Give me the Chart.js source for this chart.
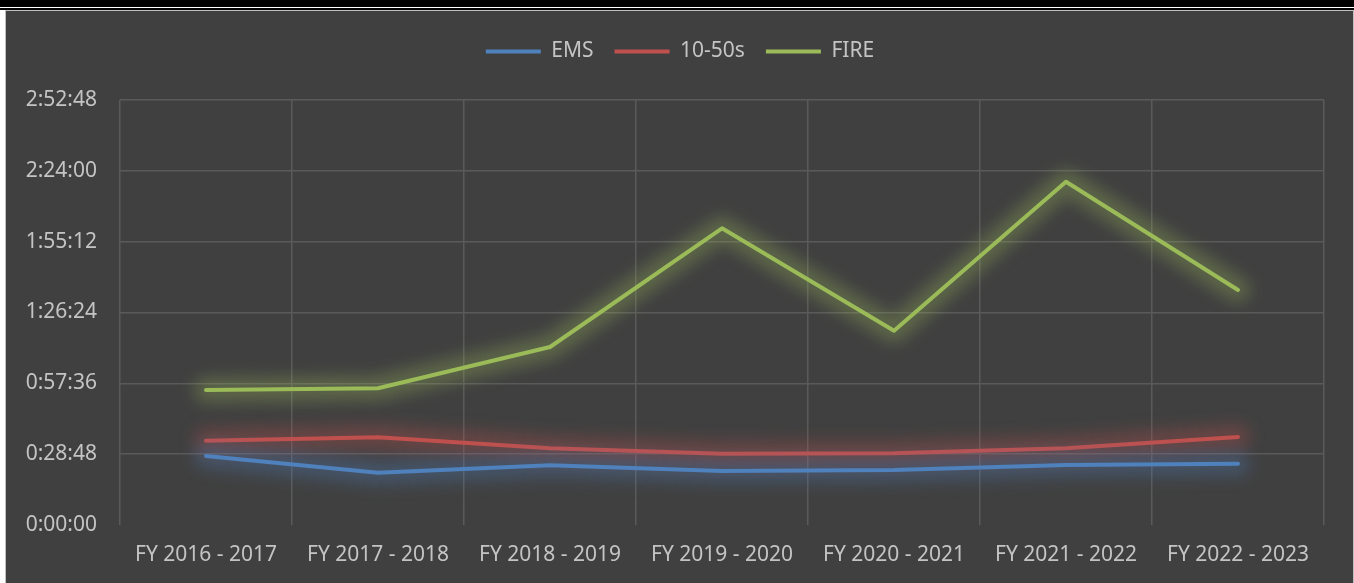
<!DOCTYPE html>
<html>
<head>
<meta charset="utf-8">
<script src="https://cdn.jsdelivr.net/npm/chart.js@4.4.0/dist/chart.umd.min.js"></script>
<style>
  body { margin: 0; background: #fff; overflow: hidden; }
  .bar-thick { height: 7px; background: #000; }
  .bar-gap { height: 1px; background: #fff; }
  .bar-thin { height: 2px; background: #000; }
  #wrap {
    margin-left: 5px;
    width: 1349px;
    height: 573px;
    border: 1px solid #bfbfbf;
    border-bottom: none;
    box-sizing: border-box;
    background: #404040;
    position: relative;
  }
  #wrap canvas { display: block; }
</style>
</head>
<body>
<div class="bar-thick"></div>
<div class="bar-gap"></div>
<div class="bar-thin"></div>
<div id="wrap"><canvas id="chart" width="1347" height="572"></canvas></div>

<script>
// fiscal years on the x axis
const years = ['FY 2016 - 2017', 'FY 2017 - 2018', 'FY 2018 - 2019', 'FY 2019 - 2020',
               'FY 2020 - 2021', 'FY 2021 - 2022', 'FY 2022 - 2023'];

// average times, in seconds
const emsTimes = [1683, 1276, 1456, 1317, 1342, 1464, 1495];
const tenFiftyTimes = [2057, 2139, 1871, 1739, 1749, 1871, 2147];
const fireTimes = [3293, 3335, 4342, 7238, 4740, 8375, 5733];

// y axis runs 0:00:00 .. 2:52:48 in 0:28:48 steps
const yMax = 10368;
const yStep = 1728;

const textColor = '#c4c4c4';
const gridColor = '#5a5a5a';
const fontSize = 21;

function fmtTime(sec) {
    const h = Math.floor(sec / 3600);
    const m = Math.floor((sec % 3600) / 60);
    const s = Math.round(sec % 60);
    return h + ':' + String(m).padStart(2, '0') + ':' + String(s).padStart(2, '0');
}

// soft glow under each line: a wide blurred stroke through the same points
const glowPlugin = {
    id: 'glow',
    beforeDatasetDraw(chart, args) {
        const ctx = chart.ctx;
        const ds = chart.data.datasets[args.index];
        const pts = args.meta.data;
        ctx.save();
        ctx.filter = 'blur(8px)';
        ctx.strokeStyle = ds.glowColor;
        ctx.lineWidth = 24;
        ctx.lineJoin = 'round';
        ctx.lineCap = 'round';
        ctx.beginPath();
        pts.forEach((p, i) => i === 0 ? ctx.moveTo(p.x, p.y) : ctx.lineTo(p.x, p.y));
        ctx.stroke();
        ctx.restore();
    }
};

// push the plot down below the legend, nudge legend right a bit
const legendSpace = {
    id: 'legendSpace',
    beforeInit(chart) {
        const fit = chart.legend.fit;
        chart.legend.fit = function () {
            fit.bind(chart.legend)();
            this.height = 80;
        };
    },
    afterLayout(chart) {
        chart.legend.left += 8;
        chart.legend.right += 8;
    }
};

const canvas = document.getElementById('chart');

new Chart(canvas, {
    type: 'line',
    data: {
        labels: years,
        datasets: [
            { label: 'EMS', data: emsTimes, borderColor: '#4f81bd', backgroundColor: '#4f81bd',
              glowColor: 'rgba(79,129,189,0.32)' },
            { label: '10-50s', data: tenFiftyTimes, borderColor: '#c0504d', backgroundColor: '#c0504d',
              glowColor: 'rgba(192,80,77,0.32)' },
            { label: 'FIRE', data: fireTimes, borderColor: '#9bbb59', backgroundColor: '#9bbb59',
              glowColor: 'rgba(155,187,89,0.32)' }
        ].map(d => Object.assign(d, {
            borderWidth: 4,
            pointRadius: 0,
            tension: 0,
            borderCapStyle: 'round',
            borderJoinStyle: 'round',
            fill: false
        }))
    },
    options: {
        responsive: false,
        animation: false,
        devicePixelRatio: 1,
        layout: { padding: { left: 14, right: 29, top: 9, bottom: 0 } },
        plugins: {
            legend: {
                position: 'top',
                labels: {
                    color: textColor,
                    font: { family: 'Noto Sans', size: fontSize },
                    boxWidth: 55,
                    boxHeight: 4,
                    padding: 21,
                    generateLabels(chart) {
                        const items = Chart.defaults.plugins.legend.labels.generateLabels(chart);
                        items.forEach(it => { it.lineWidth = 0; });
                        return items;
                    }
                }
            },
            tooltip: { enabled: false }
        },
        scales: {
            x: {
                offset: true,
                grid: { offset: true, color: gridColor, lineWidth: 1.5, drawTicks: false },
                border: { display: false },
                ticks: {
                    color: textColor,
                    font: { family: 'Noto Sans', size: fontSize },
                    padding: 17,
                    maxRotation: 0,
                    autoSkip: false
                },
                afterFit(s) { s.height = 58; }
            },
            y: {
                min: 0,
                max: yMax,
                grid: {
                    color: ctx => ctx.index === 0 ? 'rgba(0,0,0,0)' : gridColor,
                    lineWidth: 1.5,
                    drawTicks: false
                },
                border: { display: false },
                ticks: {
                    stepSize: yStep,
                    color: textColor,
                    font: { family: 'Noto Sans', size: fontSize },
                    padding: 23,
                    callback: v => fmtTime(v)
                },
                afterFit(s) { s.width = 100; }
            }
        }
    },
    plugins: [glowPlugin, legendSpace]
});
</script>
</body>
</html>
